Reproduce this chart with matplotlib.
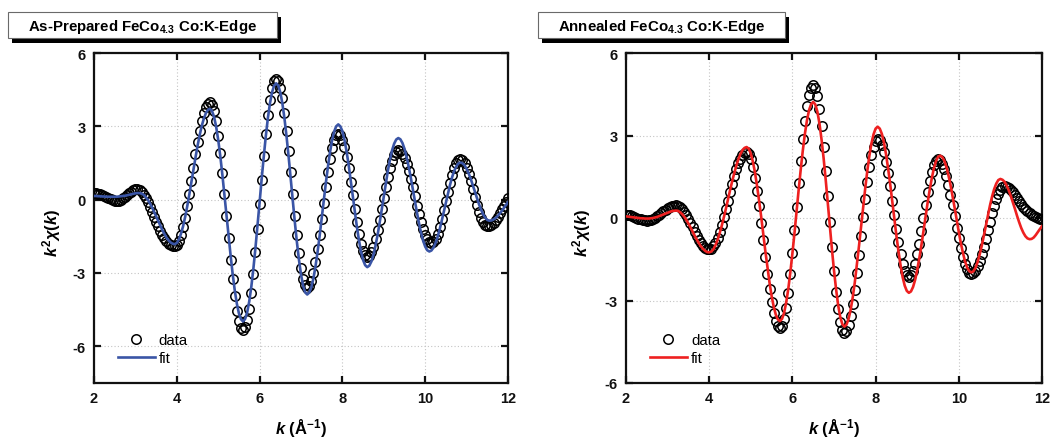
import numpy as np
import matplotlib
matplotlib.use('Agg')
import matplotlib.pyplot as plt
from matplotlib.patches import Rectangle

plt.rcParams['font.family'] = ['Liberation Sans', 'DejaVu Sans']
plt.rcParams['font.weight'] = 'bold'
plt.rcParams['mathtext.fontset'] = 'custom'
plt.rcParams['mathtext.rm'] = 'Liberation Sans:bold'
plt.rcParams['mathtext.it'] = 'Liberation Sans:bold:italic'
plt.rcParams['mathtext.bf'] = 'Liberation Sans:bold'
plt.rcParams['mathtext.sf'] = 'Liberation Sans:bold'
plt.rcParams['axes.unicode_minus'] = False

# k grid (Å^-1), 0.05 step
k = np.linspace(2.0, 12.0, 201)

asprep_data = [
    0.28, 0.27, 0.25, 0.22, 0.18, 0.14, 0.09, 0.05, 0.01, -0.02,
    -0.04, -0.05, -0.04, 0.00, 0.05, 0.12, 0.19, 0.26, 0.33, 0.38,
    0.42, 0.43, 0.40, 0.33, 0.21, 0.06, -0.11, -0.30, -0.50, -0.70,
    -0.90, -1.09, -1.27, -1.43, -1.58, -1.70, -1.80, -1.86, -1.90, -1.90,
    -1.85, -1.70, -1.46, -1.13, -0.73, -0.27, 0.23, 0.77, 1.31, 1.85,
    2.35, 2.81, 3.21, 3.54, 3.78, 3.93, 3.98, 3.89, 3.63, 3.20,
    2.62, 1.92, 1.11, 0.24, -0.67, -1.58, -2.45, -3.26, -3.96, -4.54,
    -4.97, -5.23, -5.32, -5.22, -4.93, -4.46, -3.82, -3.04, -2.15, -1.19,
    -0.19, 0.82, 1.78, 2.67, 3.45, 4.09, 4.56, 4.85, 4.95, 4.86,
    4.58, 4.14, 3.53, 2.81, 2.00, 1.12, 0.23, -0.65, -1.46, -2.18,
    -2.79, -3.23, -3.51, -3.60, -3.53, -3.33, -3.00, -2.55, -2.03, -1.43,
    -0.78, -0.12, 0.53, 1.13, 1.65, 2.10, 2.43, 2.63, 2.70, 2.63,
    2.46, 2.15, 1.75, 1.28, 0.74, 0.18, -0.39, -0.93, -1.40, -1.80,
    -2.10, -2.28, -2.35, -2.30, -2.16, -1.93, -1.62, -1.26, -0.84, -0.39,
    0.06, 0.51, 0.93, 1.29, 1.60, 1.83, 1.97, 2.02, 1.98, 1.88,
    1.70, 1.47, 1.18, 0.85, 0.50, 0.13, -0.24, -0.59, -0.92, -1.21,
    -1.44, -1.62, -1.72, -1.76, -1.72, -1.60, -1.39, -1.12, -0.80, -0.43,
    -0.06, 0.32, 0.69, 1.01, 1.28, 1.48, 1.61, 1.65, 1.61, 1.49,
    1.31, 1.06, 0.77, 0.45, 0.12, -0.20, -0.49, -0.74, -0.92, -1.04,
    -1.08, -1.06, -1.02, -0.94, -0.83, -0.71, -0.56, -0.40, -0.24, -0.08,
    0.08,
]

asprep_fit = [
    0.15, 0.15, 0.14, 0.14, 0.13, 0.13, 0.12, 0.12, 0.12, 0.12,
    0.12, 0.12, 0.13, 0.14, 0.15, 0.16, 0.18, 0.20, 0.22, 0.24,
    0.26, 0.27, 0.27, 0.25, 0.20, 0.11, 0.00, -0.15, -0.31, -0.49,
    -0.68, -0.87, -1.06, -1.24, -1.40, -1.55, -1.66, -1.75, -1.80, -1.82,
    -1.77, -1.63, -1.40, -1.10, -0.72, -0.29, 0.19, 0.70, 1.21, 1.71,
    2.19, 2.62, 3.00, 3.30, 3.53, 3.67, 3.72, 3.63, 3.39, 2.99,
    2.45, 1.79, 1.03, 0.22, -0.63, -1.48, -2.29, -3.05, -3.71, -4.25,
    -4.65, -4.89, -4.98, -4.88, -4.61, -4.16, -3.56, -2.82, -1.97, -1.06,
    -0.11, 0.85, 1.75, 2.60, 3.34, 3.94, 4.39, 4.66, 4.76, 4.67,
    4.39, 3.94, 3.33, 2.60, 1.78, 0.89, -0.01, -0.90, -1.72, -2.45,
    -3.06, -3.51, -3.79, -3.88, -3.80, -3.58, -3.22, -2.73, -2.14, -1.48,
    -0.76, -0.04, 0.68, 1.34, 1.93, 2.42, 2.78, 3.00, 3.08, 3.00,
    2.80, 2.44, 1.98, 1.43, 0.81, 0.16, -0.49, -1.11, -1.66, -2.12,
    -2.47, -2.68, -2.76, -2.70, -2.53, -2.26, -1.88, -1.44, -0.94, -0.40,
    0.15, 0.70, 1.20, 1.64, 2.02, 2.29, 2.46, 2.52, 2.47, 2.32,
    2.08, 1.75, 1.36, 0.92, 0.44, -0.04, -0.52, -0.96, -1.35, -1.68,
    -1.92, -2.07, -2.12, -2.08, -1.96, -1.77, -1.52, -1.21, -0.86, -0.49,
    -0.11, 0.26, 0.61, 0.92, 1.17, 1.36, 1.48, 1.52, 1.49, 1.41,
    1.26, 1.07, 0.85, 0.59, 0.33, 0.07, -0.19, -0.41, -0.60, -0.74,
    -0.83, -0.86, -0.85, -0.81, -0.75, -0.67, -0.57, -0.46, -0.34, -0.22,
    -0.10,
]

annealed_data = [
    0.12, 0.11, 0.10, 0.07, 0.04, 0.01, -0.02, -0.05, -0.08, -0.09,
    -0.10, -0.09, -0.07, -0.04, 0.01, 0.06, 0.12, 0.18, 0.24, 0.30,
    0.35, 0.40, 0.43, 0.45, 0.46, 0.44, 0.40, 0.33, 0.23, 0.10,
    -0.03, -0.18, -0.34, -0.50, -0.65, -0.79, -0.91, -1.01, -1.08, -1.12,
    -1.14, -1.11, -1.03, -0.90, -0.73, -0.51, -0.26, 0.03, 0.32, 0.63,
    0.94, 1.24, 1.52, 1.77, 1.99, 2.16, 2.29, 2.37, 2.40, 2.34,
    2.16, 1.86, 1.47, 0.98, 0.42, -0.17, -0.80, -1.43, -2.02, -2.58,
    -3.07, -3.46, -3.76, -3.94, -4.00, -3.91, -3.66, -3.26, -2.71, -2.04,
    -1.27, -0.45, 0.41, 1.27, 2.09, 2.86, 3.53, 4.08, 4.48, 4.73,
    4.82, 4.72, 4.43, 3.97, 3.33, 2.57, 1.72, 0.79, -0.14, -1.07,
    -1.92, -2.68, -3.32, -3.78, -4.07, -4.17, -4.10, -3.90, -3.58, -3.14,
    -2.61, -2.00, -1.34, -0.65, 0.04, 0.70, 1.31, 1.84, 2.28, 2.60,
    2.80, 2.87, 2.82, 2.66, 2.40, 2.04, 1.62, 1.15, 0.63, 0.11,
    -0.41, -0.88, -1.30, -1.66, -1.92, -2.08, -2.13, -2.07, -1.93, -1.67,
    -1.32, -0.93, -0.47, 0.01, 0.48, 0.94, 1.34, 1.67, 1.93, 2.08,
    2.14, 2.10, 1.98, 1.79, 1.53, 1.21, 0.85, 0.46, 0.06, -0.35,
    -0.74, -1.10, -1.42, -1.68, -1.87, -1.99, -2.03, -2.00, -1.91, -1.76,
    -1.57, -1.32, -1.05, -0.75, -0.44, -0.13, 0.17, 0.44, 0.69, 0.88,
    1.03, 1.12, 1.15, 1.14, 1.10, 1.03, 0.94, 0.84, 0.73, 0.62,
    0.51, 0.41, 0.32, 0.24, 0.17, 0.11, 0.06, 0.02, -0.01, -0.03,
    -0.05,
]

annealed_fit = [
    0.06, 0.05, 0.04, 0.03, 0.02, 0.01, 0.00, -0.01, -0.01, -0.02,
    -0.02, -0.02, -0.01, 0.00, 0.02, 0.04, 0.07, 0.10, 0.13, 0.16,
    0.19, 0.22, 0.25, 0.26, 0.27, 0.26, 0.21, 0.14, 0.05, -0.07,
    -0.20, -0.34, -0.49, -0.64, -0.78, -0.91, -1.03, -1.12, -1.19, -1.24,
    -1.25, -1.22, -1.14, -0.99, -0.80, -0.56, -0.29, 0.01, 0.33, 0.67,
    1.00, 1.32, 1.62, 1.89, 2.13, 2.32, 2.47, 2.55, 2.58, 2.52,
    2.34, 2.05, 1.66, 1.17, 0.62, 0.04, -0.59, -1.21, -1.79, -2.35,
    -2.83, -3.22, -3.51, -3.69, -3.75, -3.67, -3.45, -3.08, -2.59, -1.98,
    -1.29, -0.55, 0.24, 1.02, 1.76, 2.45, 3.06, 3.55, 3.92, 4.14,
    4.22, 4.13, 3.87, 3.44, 2.86, 2.18, 1.40, 0.56, -0.29, -1.13,
    -1.91, -2.59, -3.17, -3.60, -3.86, -3.95, -3.88, -3.67, -3.34, -2.89,
    -2.34, -1.70, -1.03, -0.32, 0.40, 1.07, 1.71, 2.26, 2.71, 3.04,
    3.25, 3.32, 3.25, 3.06, 2.75, 2.32, 1.81, 1.24, 0.61, -0.01,
    -0.64, -1.21, -1.72, -2.15, -2.46, -2.65, -2.72, -2.67, -2.51, -2.25,
    -1.89, -1.47, -1.00, -0.48, 0.03, 0.55, 1.02, 1.44, 1.80, 2.06,
    2.22, 2.27, 2.22, 2.09, 1.87, 1.56, 1.21, 0.80, 0.37, -0.08,
    -0.51, -0.92, -1.27, -1.58, -1.80, -1.93, -1.98, -1.94, -1.82, -1.61,
    -1.34, -1.02, -0.66, -0.28, 0.10, 0.46, 0.78, 1.05, 1.25, 1.38,
    1.42, 1.39, 1.32, 1.18, 1.01, 0.80, 0.57, 0.33, 0.08, -0.15,
    -0.36, -0.53, -0.66, -0.74, -0.77, -0.76, -0.71, -0.62, -0.51, -0.40,
    -0.30,
]

titles = ['As-Prepared FeCo$_{4.3}$ Co:K-Edge', 'Annealed FeCo$_{4.3}$ Co:K-Edge']
fit_colors = ['#3a55a6', '#ee2020']
xticks = [2, 4, 6, 8, 10, 12]
yticks = [-6, -3, 0, 3, 6]
ylims = [(-7.5, 6), (-6, 6)]

W, H = 1055, 439
fig = plt.figure(figsize=(W / 100, H / 100), dpi=100)

axes_px = [(94, 414), (626, 416)]
box_px = [(8, 277), (538, 785)]
ylabel_x = [-0.075, -0.079]
series = [(asprep_data, asprep_fit), (annealed_data, annealed_fit)]

for i in range(2):
    x0, w = axes_px[i]
    ax = fig.add_axes([x0 / W, 55 / H, w / W, 330 / H])
    d, f = series[i]
    ax.plot(k, d, 'o', mfc='none', mec='black', ms=6.8, mew=1.1, label='data', zorder=3)
    ax.plot(k, f, '-', color=fit_colors[i], lw=1.9, label='fit', zorder=4)
    ax.set_xlim(2, 12)
    ax.set_ylim(*ylims[i])
    ax.set_xticks(xticks)
    ax.set_yticks(yticks)
    ax.grid(True, linestyle=(0, (1, 2)), color='#c4c4c4', linewidth=0.8)
    ax.set_axisbelow(True)
    for s in ax.spines.values():
        s.set_linewidth(1.6)
        s.set_color('#111111')
    ax.tick_params(direction='in', top=True, right=True, length=5, width=1.6,
                   labelsize=10.5, pad=6, colors='#111111')
    ax.set_xlabel(r'$k$ (Å$^{-1}$)', fontsize=12, fontweight='bold')
    ax.xaxis.set_label_coords(0.5, -0.10)
    ax.set_ylabel(r'$k^{2}\chi(k)$', fontsize=12, fontweight='bold')
    ax.yaxis.set_label_coords(ylabel_x[i], 0.457)
    ax.legend(loc='lower left', bbox_to_anchor=(0.057, 0.055), frameon=False,
              borderpad=0, borderaxespad=0, handlelength=2.5, handletextpad=0.25,
              labelspacing=0.25, numpoints=1,
              prop={'family': 'Liberation Sans', 'size': 10.8, 'weight': 'normal'})

    bx0, bx1 = box_px[i]
    fig.add_artist(Rectangle(((bx0 + 4) / W, 1 - 43.5 / H), (bx1 - bx0) / W, 26 / H,
                             transform=fig.transFigure, facecolor='black',
                             edgecolor='none', zorder=5))
    fig.add_artist(Rectangle((bx0 / W, 1 - 39 / H), (bx1 - bx0) / W, 26 / H,
                             transform=fig.transFigure, facecolor='white',
                             edgecolor='#6a6a6a', linewidth=0.8, zorder=6))
    fig.text((bx0 + bx1) / 2 / W, 1 - 30.5 / H, titles[i], ha='center', va='baseline',
             fontsize=10.8, fontweight='bold', zorder=7)

fig.savefig('out.png', dpi=100)
